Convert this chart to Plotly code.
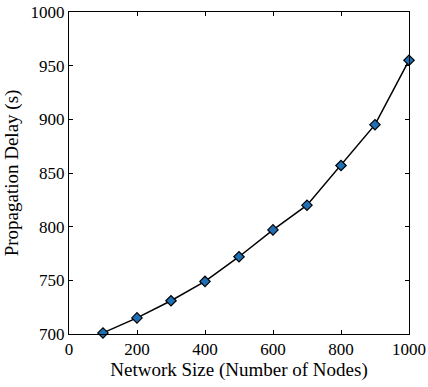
import plotly.graph_objects as go

network_size = [100, 200, 300, 400, 500, 600, 700, 800, 900, 1000]
delay = [701, 715, 731, 749, 772, 797, 820, 857, 895, 955]

x_ticks = [0, 200, 400, 600, 800, 1000]
y_ticks = [700, 750, 800, 850, 900, 950, 1000]

FONT = "Liberation Serif, Times New Roman, Times, serif"

fig = go.Figure()
fig.add_trace(go.Scatter(
    x=network_size, y=delay, mode="lines+markers",
    line=dict(color="black", width=1.5),
    marker=dict(symbol="diamond", size=8, color="#1f6fb5",
                line=dict(color="black", width=1.2)),
    cliponaxis=False,
))

axis_common = dict(
    showgrid=False, zeroline=False, showline=True, linecolor="black",
    linewidth=1, mirror="ticks", ticks="inside", ticklen=4, tickcolor="black",
    automargin=False,
    tickfont=dict(family=FONT, size=17, color="black"),
)
fig.update_xaxes(range=[0, 1000], tickvals=x_ticks,
                 title=dict(text="Network Size (Number of Nodes)",
                            font=dict(family=FONT, size=19, color="black"),
                            standoff=2),
                 **axis_common)
fig.update_yaxes(range=[700, 1000], tickvals=y_ticks,
                 title=dict(text="Propagation Delay (s)",
                            font=dict(family=FONT, size=19, color="black"),
                            standoff=6),
                 **axis_common)
fig.update_layout(
    width=428, height=387,
    margin=dict(l=69, r=19, t=12, b=53),
    paper_bgcolor="white", plot_bgcolor="white",
    font=dict(family=FONT, color="black"),
    showlegend=False,
)
fig.write_html("out.html", config={"displayModeBar": False, "staticPlot": True},
               post_script="document.body.style.margin='0';document.body.style.overflow='hidden';")
